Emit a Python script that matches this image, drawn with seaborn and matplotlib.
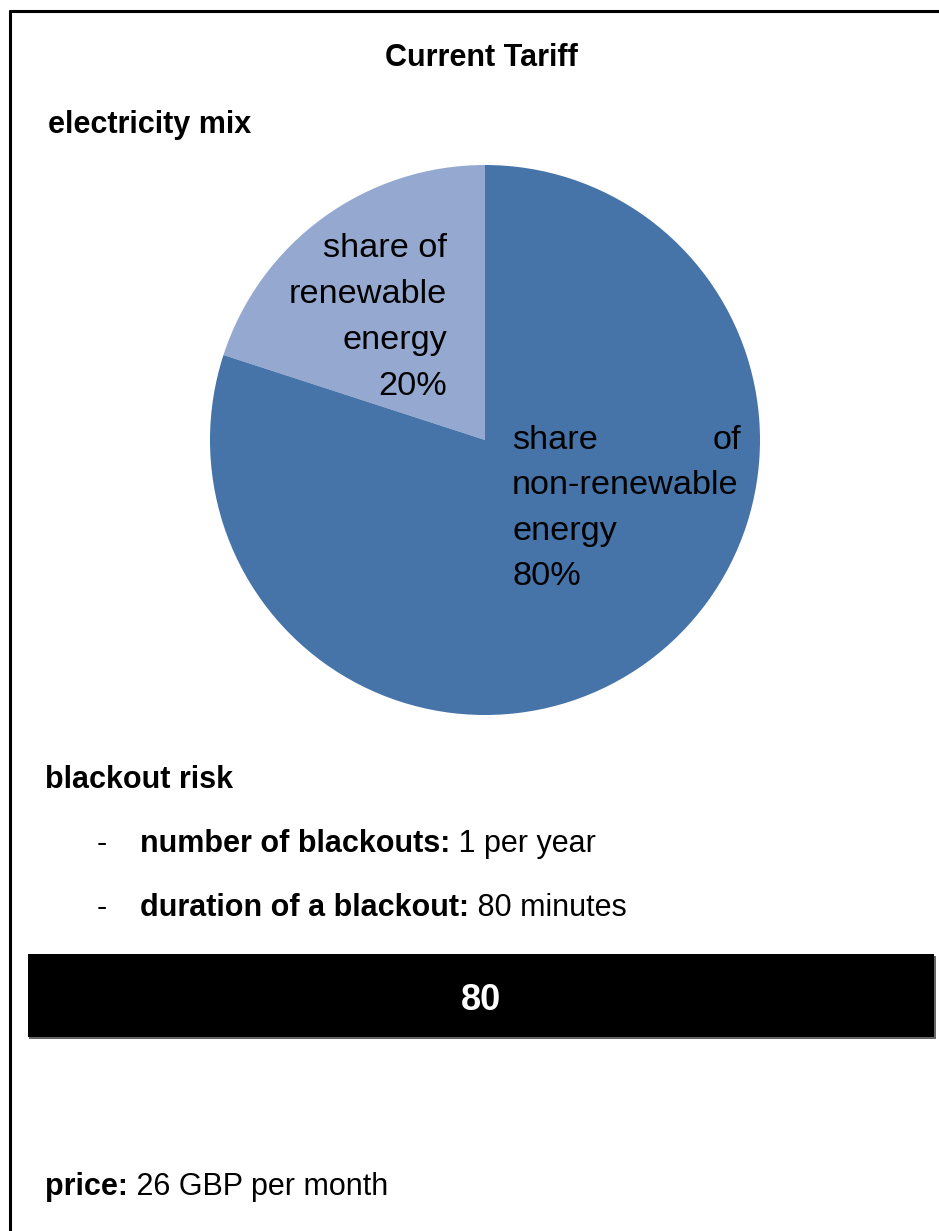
import matplotlib
matplotlib.use("Agg")
import matplotlib.pyplot as plt
from matplotlib.patches import Rectangle
import seaborn as sns

# ---- data ----
slice_labels = ["share of\nnon-renewable\nenergy", "share of\nrenewable\nenergy"]
slice_values = [80, 20]
slice_colors = ["#4674A9", "#95A9D0"]
title = "Current Tariff"
section_mix = "electricity mix"
section_risk = "blackout risk"
risk_keys = ["number of blackouts:", "duration of a blackout:"]
risk_vals = ["1 per year", "80 minutes"]
bar_value = "80"
price_key = "price:"
price_val = "26 GBP per month"

sns.set_theme(style="white")
plt.rcParams['font.family'] = ['Liberation Sans', 'DejaVu Sans']
plt.rcParams['text.color'] = 'black'

W, H = 939, 1231
fig = plt.figure(figsize=(W / 100, H / 100), dpi=100)
fig.patch.set_facecolor("white")

# pie
cx, cy, r = 485, 440, 275
pie_ax = fig.add_axes([(cx - r) / W, 1 - (cy + r) / H, 2 * r / W, 2 * r / H])
pie_ax.pie([slice_values[1], slice_values[0]], colors=[slice_colors[1], slice_colors[0]],
           startangle=90, counterclock=True, radius=1,
           wedgeprops=dict(linewidth=0))
pie_ax.set_xlim(-1, 1)
pie_ax.set_ylim(-1, 1)
pie_ax.set_aspect("equal")
pie_ax.axis("off")
pie_ax.set_zorder(1)

# pixel-coordinate canvas axes (on top)
cv = fig.add_axes([0, 0, 1, 1])
cv.set_xlim(0, W)
cv.set_ylim(H, 0)
cv.axis("off")
cv.set_zorder(2)
cv.patch.set_alpha(0)

# frame: top line and left line
cv.plot([9, W], [11, 11], color="black", lw=2.2, solid_capstyle="butt")
cv.plot([10, 10], [10, H], color="black", lw=2.2, solid_capstyle="butt")

fs_big = 24.7
fs_txt = 22

# title & section labels
cv.text(481, 66, title, ha="center", va="baseline", fontsize=fs_txt, fontweight="bold")
cv.text(48, 133, section_mix, ha="left", va="baseline", fontsize=fs_txt, fontweight="bold")

# pie labels
ren_lines = slice_labels[1].split("\n") + [f"{slice_values[1]}%"]
for i, ln in enumerate(ren_lines):
    cv.text(447, 257 + 46 * i, ln, ha="right", va="baseline", fontsize=fs_big)

non_lines = slice_labels[0].split("\n") + [f"{slice_values[0]}%"]
ybase = 449
for i, ln in enumerate(non_lines):
    y = ybase + 45.3 * i
    if i == 0:
        a, b = ln.split(" ")
        cv.text(512, y, a, ha="left", va="baseline", fontsize=fs_big)
        cv.text(741, y, b, ha="right", va="baseline", fontsize=fs_big)
    else:
        cv.text(512, y, ln, ha="left", va="baseline", fontsize=fs_big)

# blackout risk
cv.text(45, 788, section_risk, ha="left", va="baseline", fontsize=fs_txt, fontweight="bold")

renderer = fig.canvas.get_renderer()


def mixed(x, y, bold, normal):
    t = cv.text(x, y, bold, ha="left", va="baseline", fontsize=fs_txt, fontweight="bold")
    bb = t.get_window_extent(renderer=renderer)
    x1 = cv.transData.inverted().transform((bb.x1, 0))[0]
    cv.text(x1, y, " " + normal, ha="left", va="baseline", fontsize=fs_txt)


for i, (k, v) in enumerate(zip(risk_keys, risk_vals)):
    y = 852 + 64 * i
    cv.text(97, y, "-", ha="left", va="baseline", fontsize=fs_txt)
    mixed(140, y, k, v)

# black bar with value
cv.add_patch(Rectangle((29, 956), 907, 83, facecolor="#666666", edgecolor="none"))
cv.add_patch(Rectangle((28, 954), 906, 83, facecolor="black", edgecolor="none"))
cv.text(481, 1010, bar_value, ha="center", va="baseline", fontsize=26, color="white",
        fontweight="bold", fontstretch="condensed",
        family=["Liberation Sans Narrow", "Liberation Sans", "DejaVu Sans"])

# price
mixed(45, 1195, price_key, price_val)

fig.savefig("out.png", dpi=100, facecolor="white")
